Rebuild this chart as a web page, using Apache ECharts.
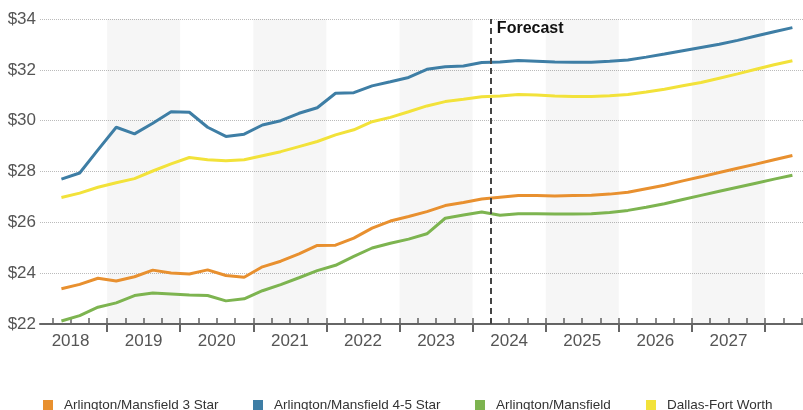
<!DOCTYPE html>
<html><head><meta charset="utf-8">
<script src="https://cdn.jsdelivr.net/npm/echarts@6/dist/echarts.min.js"></script>
<style>html,body{margin:0;padding:0;background:#fff}#c{width:803px;height:410px}</style>
</head><body><div id="c"></div>
<script>
const quarters = ['2018Q2','2018Q3','2018Q4',
 '2019Q1','2019Q2','2019Q3','2019Q4','2020Q1','2020Q2','2020Q3','2020Q4',
 '2021Q1','2021Q2','2021Q3','2021Q4','2022Q1','2022Q2','2022Q3','2022Q4',
 '2023Q1','2023Q2','2023Q3','2023Q4','2024Q1','2024Q2','2024Q3','2024Q4',
 '2025Q1','2025Q2','2025Q3','2025Q4','2026Q1','2026Q2','2026Q3','2026Q4',
 '2027Q1','2027Q2','2027Q3','2027Q4','2028Q1','2028Q2'];
const star3 = [23.39,23.56,23.80,23.69,23.86,24.12,24.01,23.97,24.13,23.91,
 23.84,24.25,24.47,24.76,25.09,25.10,25.38,25.77,26.05,26.23,
 26.42,26.66,26.78,26.92,26.99,27.06,27.06,27.04,27.06,27.07,
 27.11,27.18,27.32,27.46,27.63,27.79,27.96,28.13,28.29,28.46,28.63];
const star45 = [27.70,27.94,28.85,29.74,29.48,29.90,30.35,30.33,29.74,29.38,
 29.47,29.83,30.00,30.29,30.51,31.08,31.10,31.37,31.53,31.70,
 32.02,32.12,32.15,32.29,32.31,32.37,32.34,32.31,32.30,32.30,
 32.34,32.39,32.50,32.62,32.75,32.88,33.01,33.16,33.33,33.50,33.66];
const market = [22.12,22.33,22.66,22.83,23.12,23.22,23.18,23.14,23.12,22.91,
 22.99,23.31,23.55,23.82,24.10,24.31,24.66,24.99,25.18,25.34,
 25.55,26.16,26.29,26.41,26.28,26.34,26.34,26.33,26.33,26.34,
 26.39,26.47,26.59,26.73,26.90,27.06,27.22,27.38,27.54,27.70,27.85];
const dfw = [26.98,27.15,27.38,27.56,27.72,28.02,28.30,28.55,28.46,28.42,
 28.46,28.62,28.78,28.98,29.18,29.44,29.64,29.96,30.13,30.35,
 30.58,30.75,30.84,30.94,30.97,31.03,31.01,30.97,30.95,30.95,
 30.98,31.03,31.13,31.24,31.37,31.50,31.67,31.84,32.02,32.20,32.36];
const yearLabels = ['2018','2019','2020','2021','2022','2023','2024','2025','2026','2027'];
const shadedYears = ['2019','2021','2023','2025','2027'];
const forecastStart = '2024Q2';
const forecastLabel = 'Forecast';
const seriesNames = ['Arlington/Mansfield 3 Star','Arlington/Mansfield 4-5 Star','Arlington/Mansfield','Dallas-Fort Worth'];
const seriesColors = ['#E8902F','#3E7EA5','#7DB450','#F2E23A'];
const seriesData = [star3, star45, market, dfw];

const FONT = "'Liberation Sans', Arial, sans-serif";
const XMIN = 2018.082, XMAX = 2028.52;
function qStart(q){ return +q.slice(0,4) + (+q.slice(5) - 1) / 4; }
function qMid(q){ return qStart(q) + 0.125; }

const quarterTicks = [];
for (let y = 2018; y <= 2028; y++) for (let k = 0; k < 4; k++) {
  const v = y + k / 4; if (v > XMIN && v <= XMAX) quarterTicks.push(v);
}
const yearTicks = yearLabels.map(y => +y + 1);
const yearMids = yearLabels.map(y => +y + 0.5);

const series = seriesData.map((arr, i) => ({
  name: seriesNames[i], type: 'line', showSymbol: false, symbol: 'none',
  color: seriesColors[i], lineStyle: { width: 3, color: seriesColors[i] },
  z: 3, silent: true,
  data: quarters.map((q, j) => [qMid(q), arr[j]])
}));
series.push({
  type: 'line', data: [], silent: true, z: 1,
  markArea: { silent: true, itemStyle: { color: 'rgba(0,0,0,0.035)' },
    data: shadedYears.map(y => [{ xAxis: +y }, { xAxis: +y + 1 }]) },
  markLine: { silent: true, symbol: ['none','none'], label: { show: false },
    lineStyle: { type: [6,4], color: '#444', width: 2 },
    data: [{ xAxis: qStart(forecastStart) }] },
  markPoint: { silent: true, symbol: 'circle', symbolSize: 0,
    data: [{ coord: [qStart(forecastStart), 34] }],
    label: { show: true, formatter: forecastLabel, position: 'right', distance: 6, offset: [0, 10],
      fontWeight: 'bold', fontSize: 16, color: '#111', fontFamily: FONT } }
});

const legendLefts = [43, 253, 475, 646];
const legends = seriesNames.map((n, i) => ({
  data: [n], left: legendLefts[i], top: 398, icon: 'rect', itemWidth: 10, itemHeight: 10,
  padding: 0, selectedMode: false,
  textStyle: { fontSize: 13.5, color: '#333', fontFamily: FONT, padding: [0,0,0,6] }
}));

const chart = echarts.init(document.getElementById('c'), null, { renderer: 'canvas' });
chart.setOption({
  animation: false,
  textStyle: { fontFamily: FONT },
  grid: { left: 40, right: 0, top: 19, bottom: 86, containLabel: false },
  legend: legends,
  xAxis: [{
    type: 'value', min: XMIN, max: XMAX, position: 'bottom',
    axisLine: { show: true, onZero: false, lineStyle: { color: '#666', width: 2 } },
    axisTick: { show: true, inside: true, length: 6, customValues: quarterTicks, lineStyle: { color: '#666', width: 1.5 } },
    axisLabel: { customValues: yearMids, formatter: v => String(Math.floor(v)), fontSize: 17, color: '#555', margin: 9, fontFamily: FONT },
    splitLine: { show: false }
  }, {
    type: 'value', min: XMIN, max: XMAX, position: 'bottom',
    axisLine: { show: false, onZero: false },
    axisTick: { show: true, inside: false, length: 8, customValues: yearTicks, lineStyle: { color: '#666', width: 2 } },
    axisLabel: { show: false }, splitLine: { show: false }
  }],
  yAxis: {
    type: 'value', min: 22, max: 34, interval: 2,
    axisLine: { show: false }, axisTick: { show: false },
    axisLabel: { formatter: '${value}', fontSize: 17, color: '#555', margin: 4, fontFamily: FONT },
    splitLine: { lineStyle: { type: 'dotted', color: '#bbb', width: 1 } }
  },
  series: series
});
</script></body></html>
